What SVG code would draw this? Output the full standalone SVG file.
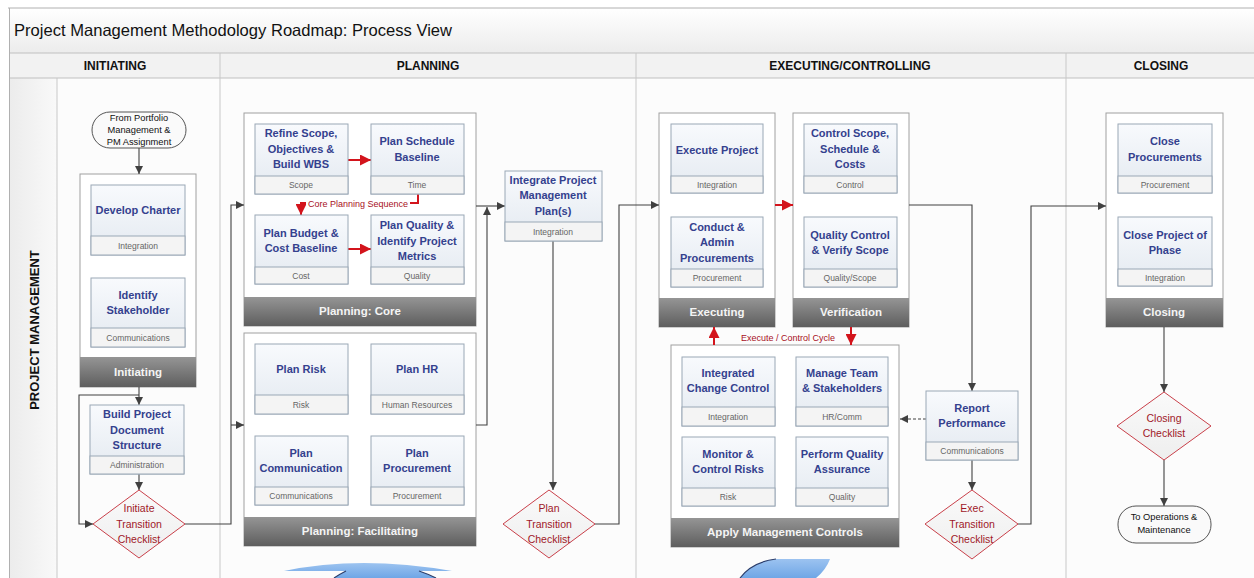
<svg xmlns="http://www.w3.org/2000/svg" width="1254" height="578" viewBox="0 0 1254 578">
<defs>
<linearGradient id="nodeGrad" x1="0" y1="0" x2="0" y2="1"><stop offset="0" stop-color="#f8fafd"/><stop offset="1" stop-color="#e3e9f0"/></linearGradient>
<linearGradient id="footGrad" x1="0" y1="0" x2="0" y2="1"><stop offset="0" stop-color="#959595"/><stop offset="1" stop-color="#5e5e5e"/></linearGradient>
<linearGradient id="titleGrad" x1="0" y1="0" x2="0" y2="1"><stop offset="0" stop-color="#ffffff"/><stop offset="1" stop-color="#ececec"/></linearGradient>
<linearGradient id="laneGrad" x1="0" y1="0" x2="1" y2="0"><stop offset="0" stop-color="#ececec"/><stop offset="1" stop-color="#f9f9f9"/></linearGradient>
<linearGradient id="diaGrad" x1="0" y1="0" x2="0" y2="1"><stop offset="0" stop-color="#fafafa"/><stop offset="1" stop-color="#eeeeee"/></linearGradient>
<linearGradient id="blueGrad" x1="0" y1="0" x2="0" y2="1"><stop offset="0" stop-color="#9cc3f0"/><stop offset="1" stop-color="#6fa6e6"/></linearGradient>
<marker id="ad" markerUnits="userSpaceOnUse" markerWidth="9" markerHeight="8" refX="8" refY="4" orient="auto"><path d="M0,0 L8,4 L0,8 Z" fill="#404040"/></marker>
<marker id="ar" markerUnits="userSpaceOnUse" markerWidth="12" markerHeight="11" refX="11" refY="5.5" orient="auto"><path d="M0,0 L11,5.5 L0,11 Z" fill="#d3141c"/></marker>
<style>
.nb{fill:url(#nodeGrad);stroke:#9aa8b6;stroke-width:1}
.band{fill:#f4f4f4;stroke:#9aa8b6;stroke-width:1}
.nt{font-family:"Liberation Sans",Arial,sans-serif;font-weight:bold;font-size:11px;fill:#34418e;text-anchor:middle}
.st{font-family:"Liberation Sans",Arial,sans-serif;font-size:8.5px;fill:#666;text-anchor:middle}
.cont{fill:#ffffff;stroke:#a0a0a0;stroke-width:1}
.foot{fill:url(#footGrad)}
.ft{font-family:"Liberation Sans",Arial,sans-serif;font-weight:bold;font-size:11.5px;fill:#f4f4f4;text-anchor:middle}
.dia{fill:url(#diaGrad);stroke:#c9404a;stroke-width:1}
.dt{font-family:"Liberation Sans",Arial,sans-serif;font-size:10.5px;fill:#a01828;text-anchor:middle}
.term{fill:#fafafa;stroke:#555;stroke-width:1}
.tt{font-family:"Liberation Sans",Arial,sans-serif;font-size:9.3px;fill:#111;text-anchor:middle}
.hd{font-family:"Liberation Sans",Arial,sans-serif;font-weight:bold;font-size:12px;fill:#111;text-anchor:middle}
.c{fill:none;stroke:#404040;stroke-width:1.1}
.r{fill:none;stroke:#d3141c;stroke-width:2}
.rt{font-family:"Liberation Sans",Arial,sans-serif;font-size:9px;fill:#a8101c}
.div{stroke:#c8c8c8;stroke-width:1}
</style>
</defs>
<rect x="0" y="0" width="1254" height="578" fill="#ffffff"/>
<rect x="9" y="8" width="1245" height="45" fill="url(#titleGrad)"/>
<rect x="9" y="53" width="1245" height="25" fill="#f2f2f2"/>
<rect x="10" y="78" width="47" height="500" fill="url(#laneGrad)"/>
<rect x="57" y="78" width="1197" height="500" fill="#fcfcfc"/>
<line x1="8" y1="8" x2="1254" y2="8" stroke="#b0b0b0"/>
<line x1="9" y1="53" x2="1254" y2="53" stroke="#c0c0c0"/>
<line x1="9" y1="78" x2="1254" y2="78" stroke="#c0c0c0"/>
<line x1="9.5" y1="8" x2="9.5" y2="578" stroke="#b0b0b0"/>
<line class="div" x1="57" y1="78" x2="57" y2="578"/>
<line class="div" x1="220" y1="53" x2="220" y2="578"/>
<line class="div" x1="636" y1="53" x2="636" y2="578"/>
<line class="div" x1="1066" y1="53" x2="1066" y2="578"/>
<text x="14" y="36" font-family="Liberation Sans,Arial,sans-serif" font-size="16.5px" fill="#111" textLength="438" lengthAdjust="spacingAndGlyphs">Project Management Methodology Roadmap: Process View</text>
<text class="hd" x="115" y="70">INITIATING</text>
<text class="hd" x="428" y="70">PLANNING</text>
<text class="hd" x="850" y="70">EXECUTING/CONTROLLING</text>
<text class="hd" x="1161" y="70">CLOSING</text>
<text transform="translate(39,330) rotate(-90)" font-family="Liberation Sans,Arial,sans-serif" font-weight="bold" font-size="13px" fill="#111" text-anchor="middle">PROJECT MANAGEMENT</text>

<!-- bottom blue arrows (partial) -->
<path d="M284,571 Q360,555 452,571 L419,571 Q428,574 436,578 L334,578 Q340,574 346,571 Z" fill="url(#blueGrad)"/>
<path d="M334,578 Q340,574 346,571 M419,571 Q428,574 436,578" fill="none" stroke="#2c3e6b" stroke-width="1.2"/>
<path d="M740,578 Q752,562 776,559 L830,559 Q826,570 816,578 Z" fill="url(#blueGrad)"/>
<path d="M740,578 Q752,562 776,559" fill="none" stroke="#2c3e6b" stroke-width="1.2"/>

<!-- containers -->
<g id="cont-initiating"><rect class="cont" x="80" y="174" width="116" height="213"/><rect class="foot" x="80" y="357" width="116" height="30"/><text class="ft" x="138" y="376">Initiating</text></g>
<g id="cont-core"><rect class="cont" x="244" y="113" width="232" height="213"/><rect class="foot" x="244" y="297" width="232" height="29"/><text class="ft" x="360" y="315">Planning: Core</text></g>
<g id="cont-facil"><rect class="cont" x="244" y="333" width="232" height="213"/><rect class="foot" x="244" y="517" width="232" height="29"/><text class="ft" x="360" y="535">Planning: Facilitating</text></g>
<g id="cont-executing"><rect class="cont" x="659" y="113" width="116" height="214"/><rect class="foot" x="659" y="298" width="116" height="29"/><text class="ft" x="717" y="316">Executing</text></g>
<g id="cont-verification"><rect class="cont" x="793" y="113" width="116" height="214"/><rect class="foot" x="793" y="298" width="116" height="29"/><text class="ft" x="851" y="316">Verification</text></g>
<g id="cont-apply"><rect class="cont" x="671" y="345" width="228" height="202"/><rect class="foot" x="671" y="518" width="228" height="29"/><text class="ft" x="785" y="536">Apply Management Controls</text></g>
<g id="cont-closing"><rect class="cont" x="1106" y="113" width="117" height="214"/><rect class="foot" x="1106" y="298" width="117" height="29"/><text class="ft" x="1164" y="316">Closing</text></g>

<!-- connectors -->
<g id="connectors">
<path class="c" d="M139,148 V174" marker-end="url(#ad)"/>
<path class="c" d="M139,387 V405" marker-end="url(#ad)"/>
<path class="c" d="M139,395 H79 V524 H93" marker-end="url(#ad)"/>
<path class="c" d="M139,474 V490" marker-end="url(#ad)"/>
<path class="c" d="M185,524 H231 V205 H244" marker-end="url(#ad)"/>
<path class="c" d="M231,425 H244" marker-end="url(#ad)"/>
<path class="c" d="M476,206 H505" marker-end="url(#ad)"/>
<path class="c" d="M476,425 H487 V207" marker-end="url(#ad)"/>
<path class="c" d="M553,241 V490" marker-end="url(#ad)"/>
<path class="c" d="M595,524 H619 V205 H659" marker-end="url(#ad)"/>
<path class="c" d="M909,205 H972 V391" marker-end="url(#ad)"/>
<path class="c" d="M926,419 H900" stroke-dasharray="3,2" marker-end="url(#ad)"/>
<path class="c" d="M972,460 V490" marker-end="url(#ad)"/>
<path class="c" d="M1018,524 H1031 V206 H1106" marker-end="url(#ad)"/>
<path class="c" d="M1164,327 V392" marker-end="url(#ad)"/>
<path class="c" d="M1164,460 V506" marker-end="url(#ad)"/>
<path class="r" d="M348,160 H371" marker-end="url(#ar)"/>
<path class="r" d="M348,249 H371" marker-end="url(#ar)"/>
<path class="r" d="M418,194 V203 H301 V215" marker-end="url(#ar)"/>
<rect x="306" y="198" width="104" height="10" fill="#ffffff"/>
<text class="rt" x="358" y="206.5" text-anchor="middle">Core Planning Sequence</text>
<path class="r" d="M775,205 H793" marker-end="url(#ar)"/>
<path class="r" d="M714,345 V327" marker-end="url(#ar)"/>
<path class="r" d="M851,327 V345" marker-end="url(#ar)"/>
<text class="rt" x="788" y="340.5" text-anchor="middle">Execute / Control Cycle</text>
</g>

<!-- terminators -->
<g id="t-from"><rect class="term" x="92" y="112" width="94" height="36" rx="18"/><text class="tt" x="139" y="120.5">From Portfolio</text><text class="tt" x="139" y="133">Management &amp;</text><text class="tt" x="139" y="145">PM Assignment</text></g>
<g id="t-ops"><rect class="term" x="1118" y="506" width="93" height="37" rx="18"/><text class="tt" x="1164" y="520">To Operations &amp;</text><text class="tt" x="1164" y="532.5">Maintenance</text></g>

<!-- diamonds -->
<g id="d-initiate"><path class="dia" d="M139,490 L185,524 L139,558 L93,524 Z"/><text class="dt" x="139" y="512">Initiate</text><text class="dt" x="139" y="528">Transition</text><text class="dt" x="139" y="543">Checklist</text></g>
<g id="d-plan"><path class="dia" d="M549,490 L595,524 L549,558 L503,524 Z"/><text class="dt" x="549" y="512">Plan</text><text class="dt" x="549" y="528">Transition</text><text class="dt" x="549" y="543">Checklist</text></g>
<g id="d-exec"><path class="dia" d="M972,490 L1018,524 L972,559 L925,524 Z"/><text class="dt" x="972" y="512">Exec</text><text class="dt" x="972" y="528">Transition</text><text class="dt" x="972" y="543">Checklist</text></g>
<g id="d-closing"><path class="dia" d="M1164,392 L1211,426 L1164,460 L1117,426 Z"/><text class="dt" x="1164" y="422">Closing</text><text class="dt" x="1164" y="437">Checklist</text></g>

<!-- nodes -->
<g id="n-charter"><rect class="nb" x="91" y="185" width="94" height="70"/><rect class="band" x="91" y="236" width="94" height="19"/><text class="nt" x="138" y="214">Develop Charter</text><text class="st" x="138" y="248.5">Integration</text></g>
<g id="n-stake"><rect class="nb" x="91" y="278" width="94" height="69"/><rect class="band" x="91" y="328" width="94" height="19"/><text class="nt" x="138" y="299">Identify</text><text class="nt" x="138" y="314">Stakeholder</text><text class="st" x="138" y="340.5">Communications</text></g>
<g id="n-docs"><rect class="nb" x="90" y="405" width="94" height="69"/><rect class="band" x="90" y="456" width="94" height="18"/><text class="nt" x="137" y="418">Build Project</text><text class="nt" x="137" y="434">Document</text><text class="nt" x="137" y="449">Structure</text><text class="st" x="137" y="468">Administration</text></g>

<g id="n-scope"><rect class="nb" x="255" y="124" width="93" height="70"/><rect class="band" x="255" y="176" width="93" height="18"/><text class="nt" x="301" y="137">Refine Scope,</text><text class="nt" x="301" y="153">Objectives &amp;</text><text class="nt" x="301" y="168">Build WBS</text><text class="st" x="301" y="188">Scope</text></g>
<g id="n-schedule"><rect class="nb" x="371" y="124" width="93" height="70"/><rect class="band" x="371" y="176" width="93" height="18"/><text class="nt" x="417" y="145">Plan Schedule</text><text class="nt" x="417" y="161">Baseline</text><text class="st" x="417" y="188">Time</text></g>
<g id="n-budget"><rect class="nb" x="255" y="215" width="93" height="69"/><rect class="band" x="255" y="267" width="93" height="17"/><text class="nt" x="301" y="237">Plan Budget &amp;</text><text class="nt" x="301" y="252">Cost Baseline</text><text class="st" x="301" y="278.5">Cost</text></g>
<g id="n-quality"><rect class="nb" x="371" y="215" width="93" height="69"/><rect class="band" x="371" y="267" width="93" height="17"/><text class="nt" x="417" y="229">Plan Quality &amp;</text><text class="nt" x="417" y="245">Identify Project</text><text class="nt" x="417" y="260">Metrics</text><text class="st" x="417" y="278.5">Quality</text></g>

<g id="n-risk"><rect class="nb" x="255" y="344" width="93" height="70"/><rect class="band" x="255" y="395" width="93" height="19"/><text class="nt" x="301" y="373">Plan Risk</text><text class="st" x="301" y="407.5">Risk</text></g>
<g id="n-hr"><rect class="nb" x="371" y="344" width="93" height="70"/><rect class="band" x="371" y="395" width="93" height="19"/><text class="nt" x="417" y="373">Plan HR</text><text class="st" x="417" y="407.5">Human Resources</text></g>
<g id="n-comm"><rect class="nb" x="255" y="436" width="93" height="69"/><rect class="band" x="255" y="487" width="93" height="18"/><text class="nt" x="301" y="457">Plan</text><text class="nt" x="301" y="472">Communication</text><text class="st" x="301" y="499">Communications</text></g>
<g id="n-proc"><rect class="nb" x="371" y="436" width="93" height="69"/><rect class="band" x="371" y="487" width="93" height="18"/><text class="nt" x="417" y="457">Plan</text><text class="nt" x="417" y="472">Procurement</text><text class="st" x="417" y="499">Procurement</text></g>

<g id="n-integrate"><rect class="nb" x="505" y="171" width="97" height="70"/><rect class="band" x="505" y="222" width="97" height="19"/><text class="nt" x="553" y="184">Integrate Project</text><text class="nt" x="553" y="199">Management</text><text class="nt" x="553" y="215">Plan(s)</text><text class="st" x="553" y="234.5">Integration</text></g>

<g id="n-execute"><rect class="nb" x="671" y="124" width="92" height="69"/><rect class="band" x="671" y="176" width="92" height="17"/><text class="nt" x="717" y="154">Execute Project</text><text class="st" x="717" y="187.5">Integration</text></g>
<g id="n-conduct"><rect class="nb" x="671" y="217" width="92" height="70"/><rect class="band" x="671" y="269" width="92" height="18"/><text class="nt" x="717" y="231">Conduct &amp;</text><text class="nt" x="717" y="246">Admin</text><text class="nt" x="717" y="262">Procurements</text><text class="st" x="717" y="281">Procurement</text></g>
<g id="n-control"><rect class="nb" x="804" y="124" width="93" height="69"/><rect class="band" x="804" y="176" width="93" height="17"/><text class="nt" x="850" y="137">Control Scope,</text><text class="nt" x="850" y="153">Schedule &amp;</text><text class="nt" x="850" y="168">Costs</text><text class="st" x="850" y="187.5">Control</text></g>
<g id="n-qc"><rect class="nb" x="804" y="217" width="93" height="70"/><rect class="band" x="804" y="269" width="93" height="18"/><text class="nt" x="850" y="239">Quality Control</text><text class="nt" x="850" y="254">&amp; Verify Scope</text><text class="st" x="850" y="281">Quality/Scope</text></g>

<g id="n-icc"><rect class="nb" x="682" y="357" width="93" height="69"/><rect class="band" x="682" y="407" width="93" height="19"/><text class="nt" x="728" y="377">Integrated</text><text class="nt" x="728" y="392">Change Control</text><text class="st" x="728" y="419.5">Integration</text></g>
<g id="n-team"><rect class="nb" x="796" y="357" width="92" height="69"/><rect class="band" x="796" y="407" width="92" height="19"/><text class="nt" x="842" y="377">Manage Team</text><text class="nt" x="842" y="392">&amp; Stakeholders</text><text class="st" x="842" y="419.5">HR/Comm</text></g>
<g id="n-mcr"><rect class="nb" x="682" y="437" width="93" height="69"/><rect class="band" x="682" y="488" width="93" height="18"/><text class="nt" x="728" y="458">Monitor &amp;</text><text class="nt" x="728" y="473">Control Risks</text><text class="st" x="728" y="500">Risk</text></g>
<g id="n-pqa"><rect class="nb" x="796" y="437" width="92" height="69"/><rect class="band" x="796" y="488" width="92" height="18"/><text class="nt" x="842" y="458">Perform Quality</text><text class="nt" x="842" y="473">Assurance</text><text class="st" x="842" y="500">Quality</text></g>
<g id="n-report"><rect class="nb" x="926" y="391" width="92" height="69"/><rect class="band" x="926" y="442" width="92" height="18"/><text class="nt" x="972" y="412">Report</text><text class="nt" x="972" y="427">Performance</text><text class="st" x="972" y="454">Communications</text></g>

<g id="n-closeproc"><rect class="nb" x="1118" y="124" width="94" height="69"/><rect class="band" x="1118" y="176" width="94" height="17"/><text class="nt" x="1165" y="145">Close</text><text class="nt" x="1165" y="161">Procurements</text><text class="st" x="1165" y="187.5">Procurement</text></g>
<g id="n-closeproj"><rect class="nb" x="1118" y="217" width="94" height="69"/><rect class="band" x="1118" y="269" width="94" height="17"/><text class="nt" x="1165" y="239">Close Project of</text><text class="nt" x="1165" y="254">Phase</text><text class="st" x="1165" y="280.5">Integration</text></g>
</svg>
